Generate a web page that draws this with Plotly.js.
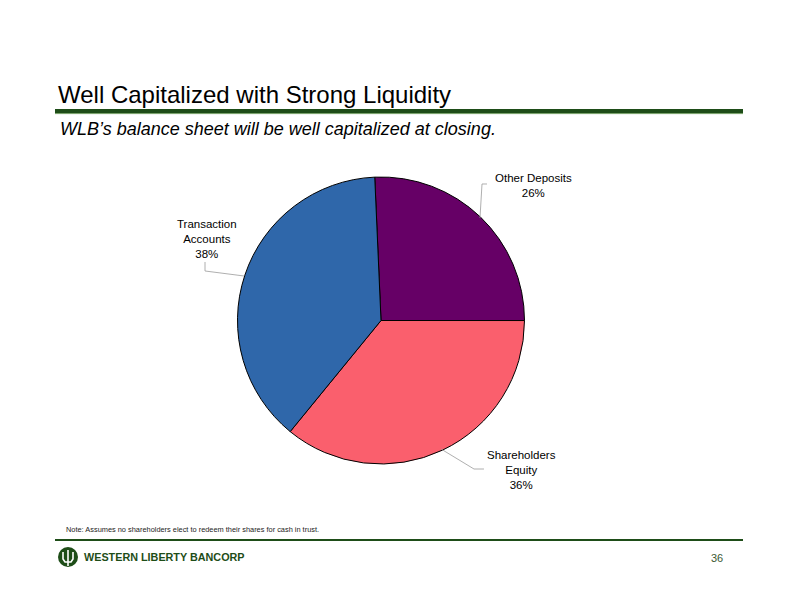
<!DOCTYPE html>
<html>
<head>
<meta charset="utf-8">
<script src="https://cdn.plot.ly/plotly-3.0.1.min.js"></script>
<style>html,body{margin:0;padding:0;background:#fff;}#chart{width:792px;height:612px;}</style>
</head>
<body>
<div id="chart"></div>
<script>
const categories = ["Other Deposits", "Shareholders Equity", "Transaction Accounts"];
const labelText = ["Other Deposits", "Shareholders<br>Equity", "Transaction<br>Accounts"];
const values = [25.7, 35.9, 38.4];
const sliceColors = ["#660066", "#FA5F6D", "#2F67AA"];

const W = 792, H = 612;
const px = x => x / W;
const py = y => 1 - y / H;

const total = values.reduce((a, b) => a + b, 0);
const pct = values.map(v => Math.round(v / total * 100) + "%");

const trace = {
  type: "pie",
  labels: categories,
  values: values,
  sort: false,
  direction: "clockwise",
  rotation: -2.5,
  textinfo: "none",
  hoverinfo: "label+percent",
  marker: { colors: sliceColors, line: { color: "#000000", width: 1 } },
  domain: { x: [px(237.5), px(524.5)], y: [py(464), py(177)] },
  showlegend: false
};

function pathPx(points) {
  return points.map((p, i) => (i === 0 ? "M" : "L") + px(p[0]).toFixed(5) + "," + py(p[1]).toFixed(5)).join(" ");
}

const green = "#1E4D18";
const leaderStyle = { color: "#9A9A9A", width: 0.8 };

const shapes = [
  { type: "line", xref: "paper", yref: "paper", x0: px(55), x1: px(743), y0: py(111), y1: py(111), line: { color: green, width: 4 } },
  { type: "line", xref: "paper", yref: "paper", x0: px(55), x1: px(743), y0: py(113.6), y1: py(113.6), line: { color: "#6E9A5E", width: 1 } },
  { type: "line", xref: "paper", yref: "paper", x0: px(55), x1: px(743), y0: py(540), y1: py(540), line: { color: green, width: 2 } },
  { type: "path", xref: "paper", yref: "paper", path: pathPx([[487, 184], [482, 184], [480, 218]]), line: leaderStyle },
  { type: "path", xref: "paper", yref: "paper", path: pathPx([[205, 262], [205, 271], [244, 276]]), line: leaderStyle },
  { type: "path", xref: "paper", yref: "paper", path: pathPx([[441, 449], [474, 469], [484, 469]]), line: leaderStyle },
  { type: "circle", xref: "paper", yref: "paper", x0: px(58), x1: px(78), y0: py(567), y1: py(547), fillcolor: green, line: { color: green, width: 0 } },
  { type: "path", xref: "paper", yref: "paper", path: pathPx([[63, 552], [63, 559], [65, 562], [71, 562], [73, 559], [73, 552]]), line: { color: "#ffffff", width: 1.6 } },
  { type: "line", xref: "paper", yref: "paper", x0: px(68), x1: px(68), y0: py(550), y1: py(566), line: { color: "#ffffff", width: 1.6 } }
];

const labelFont = { family: "Liberation Sans, Arial, sans-serif", size: 11.5, color: "#000000" };
const annotations = [
  { xref: "paper", yref: "paper", x: px(533), y: py(185.5), xanchor: "center", yanchor: "middle", showarrow: false, align: "center",
    text: labelText[0] + "<br>" + pct[0], font: labelFont },
  { xref: "paper", yref: "paper", x: px(521), y: py(470), xanchor: "center", yanchor: "middle", showarrow: false, align: "center",
    text: labelText[1] + "<br>" + pct[1], font: labelFont },
  { xref: "paper", yref: "paper", x: px(207), y: py(239), xanchor: "center", yanchor: "middle", showarrow: false, align: "center",
    text: labelText[2] + "<br>" + pct[2], font: labelFont },
  { xref: "paper", yref: "paper", x: px(58), y: py(129), xanchor: "left", yanchor: "middle", showarrow: false,
    text: "<i>WLB’s balance sheet will be well capitalized at closing.</i>",
    font: { family: "Liberation Sans, Arial, sans-serif", size: 18, color: "#000000" } },
  { xref: "paper", yref: "paper", x: px(64), y: py(529), xanchor: "left", yanchor: "middle", showarrow: false,
    text: "Note: Assumes no shareholders elect to redeem their shares for cash in trust.",
    font: { family: "Liberation Sans, Arial, sans-serif", size: 7.4, color: "#222222" } },
  { xref: "paper", yref: "paper", x: px(82), y: py(557), xanchor: "left", yanchor: "middle", showarrow: false,
    text: "<b>WESTERN LIBERTY BANCORP</b>",
    font: { family: "Liberation Sans, Arial, sans-serif", size: 10.8, color: green } },
  { xref: "paper", yref: "paper", x: px(725), y: py(558), xanchor: "right", yanchor: "middle", showarrow: false,
    text: "36",
    font: { family: "Liberation Sans, Arial, sans-serif", size: 11, color: "#3C5A33" } }
];

const layout = {
  width: W, height: H,
  margin: { l: 0, r: 0, t: 0, b: 0 },
  paper_bgcolor: "#ffffff",
  plot_bgcolor: "#ffffff",
  title: {
    text: "Well Capitalized with Strong Liquidity",
    xref: "paper", yref: "paper", x: px(58), y: py(95), xanchor: "left", yanchor: "middle",
    font: { family: "Liberation Sans, Arial, sans-serif", size: 24, color: "#000000" }
  },
  shapes: shapes,
  annotations: annotations,
  showlegend: false
};

Plotly.newPlot("chart", [trace], layout, { displayModeBar: false, staticPlot: true });
</script>
</body>
</html>
